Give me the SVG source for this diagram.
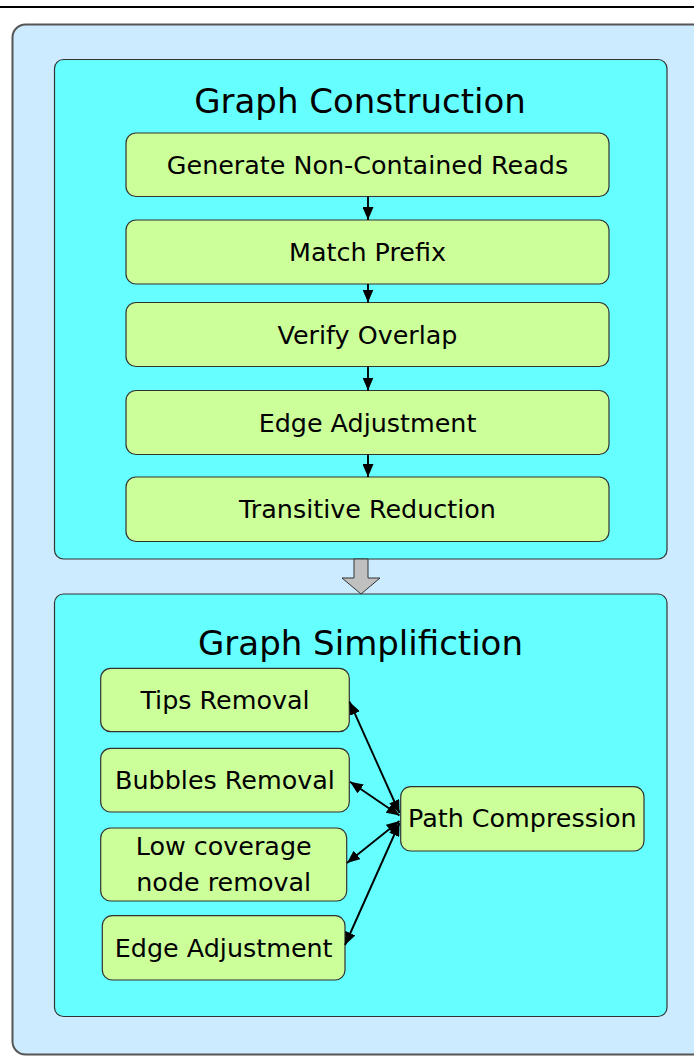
<svg xmlns="http://www.w3.org/2000/svg" width="694" height="1056" viewBox="0 0 694 1056">
<style>
.outer{fill:#cdebff;stroke:#555;stroke-width:2}
.stage{fill:#66ffff;stroke:#333;stroke-width:1.2}
.node{fill:#ccff99;stroke:#333;stroke-width:1.2}
.title{font-family:"DejaVu Sans",Verdana,sans-serif;font-size:34px;fill:#000;text-anchor:middle}
.lbl{font-family:"DejaVu Sans",Verdana,sans-serif;font-size:25.4px;fill:#000;text-anchor:middle}
.conn{stroke:#000;stroke-width:1.9;fill:none}
</style>
<defs>
<marker id="ah" viewBox="0 0 13 11" refX="13" refY="5.5" markerWidth="13" markerHeight="11" markerUnits="userSpaceOnUse" orient="auto-start-reverse">
<path d="M0,0 L13,5.5 L0,11 Z" fill="#000"/>
</marker>
</defs>
<rect width="694" height="1056" fill="#ffffff"/>
<line x1="0" y1="7" x2="694" y2="7" stroke="#000" stroke-width="2"/>
<rect class="outer" x="12.5" y="24.5" width="700" height="1030" rx="13"/>

<g id="stage-construction">
<rect class="stage" x="54.5" y="59.5" width="612.5" height="499.5" rx="9"/>
<text class="title" x="360" y="113">Graph Construction</text>
</g>
<g id="n-generate">
<rect class="node" x="126" y="133" width="483" height="63.5" rx="10"/>
<text class="lbl" x="367.5" y="173.5">Generate Non-Contained Reads</text>
</g>
<g id="n-match">
<rect class="node" x="126" y="220" width="483" height="64" rx="10"/>
<text class="lbl" x="367.5" y="261">Match Prefix</text>
</g>
<g id="n-verify">
<rect class="node" x="126" y="302.5" width="483" height="64" rx="10"/>
<text class="lbl" x="367.5" y="343.5">Verify Overlap</text>
</g>
<g id="n-edge1">
<rect class="node" x="126" y="390.5" width="483" height="64" rx="10"/>
<text class="lbl" x="367.5" y="431.5">Edge Adjustment</text>
</g>
<g id="n-transitive">
<rect class="node" x="126" y="477" width="483" height="64.5" rx="10"/>
<text class="lbl" x="367.5" y="518">Transitive Reduction</text>
</g>

<g id="stage-simplification">
<rect class="stage" x="54.5" y="594" width="612.5" height="422.5" rx="9"/>
<text class="title" x="360.5" y="655">Graph Simplifiction</text>
</g>
<g id="n-tips">
<rect class="node" x="100.7" y="668.3" width="248.6" height="63.4" rx="10"/>
<text class="lbl" x="225" y="709">Tips Removal</text>
</g>
<g id="n-bubbles">
<rect class="node" x="100.7" y="748.3" width="248.6" height="63.7" rx="10"/>
<text class="lbl" x="225" y="789">Bubbles Removal</text>
</g>
<g id="n-lowcov">
<rect class="node" x="100.7" y="828" width="246" height="73" rx="10"/>
<text class="lbl" x="223.7" y="855">Low coverage</text>
<text class="lbl" x="223.7" y="890.7">node removal</text>
</g>
<g id="n-edge2">
<rect class="node" x="102.3" y="915.7" width="242.7" height="64.3" rx="10"/>
<text class="lbl" x="223.7" y="956.7">Edge Adjustment</text>
</g>
<g id="n-path">
<rect class="node" x="400.7" y="786.7" width="243.3" height="64.3" rx="10"/>
<text class="lbl" x="522.3" y="826.7">Path Compression</text>
</g>

<g id="connectors">
<line class="conn" x1="368" y1="196.5" x2="368" y2="220" marker-end="url(#ah)"/>
<line class="conn" x1="368" y1="284" x2="368" y2="302.5" marker-end="url(#ah)"/>
<line class="conn" x1="368" y1="366.5" x2="368" y2="390.5" marker-end="url(#ah)"/>
<line class="conn" x1="368" y1="454.5" x2="368" y2="477" marker-end="url(#ah)"/>
<polygon points="354,559 368,559 368,578 380,578 361,594 342,578 354,578" fill="#c0c0c0" stroke="#333" stroke-width="1"/>
<line class="conn" x1="349.5" y1="701.7" x2="399.5" y2="813" marker-start="url(#ah)" marker-end="url(#ah)"/>
<line class="conn" x1="350" y1="781.7" x2="399.5" y2="815.5" marker-start="url(#ah)" marker-end="url(#ah)"/>
<line class="conn" x1="347" y1="863" x2="399.5" y2="821" marker-start="url(#ah)" marker-end="url(#ah)"/>
<line class="conn" x1="345" y1="945" x2="399.5" y2="823" marker-start="url(#ah)" marker-end="url(#ah)"/>
</g>
</svg>
